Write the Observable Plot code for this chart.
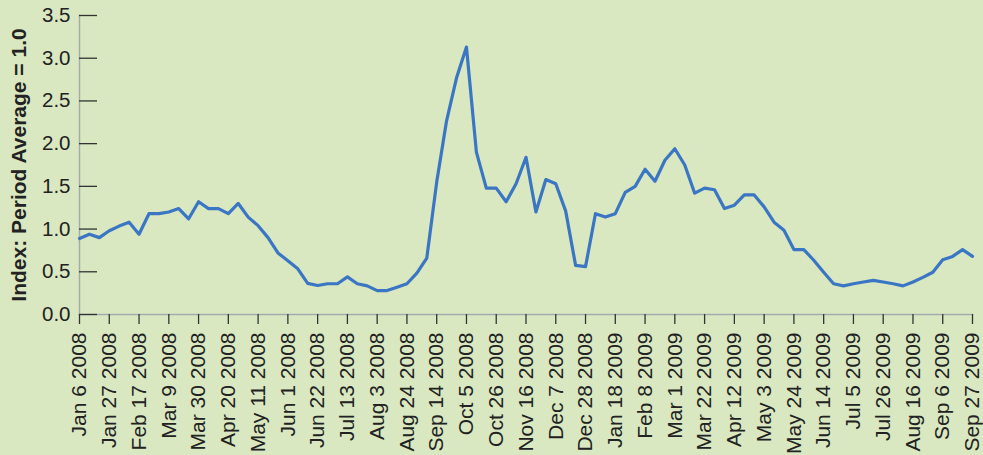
<!DOCTYPE html>
<html>
<head>
<meta charset="utf-8">
<script src="https://cdn.jsdelivr.net/npm/d3@7"></script>
<script src="https://cdn.jsdelivr.net/npm/@observablehq/plot@0.6"></script>
<style>
  html, body { margin: 0; padding: 0; background: #d9e8c0; }
  #chart { width: 983px; height: 455px; }
</style>
</head>
<body>
<div id="chart"></div>
<script>
// Weekly index values, Jan 6 2008 .. Sep 27 2009
const startLabel = "Jan 6 2008";
const values = [
  0.89, 0.94, 0.90, 0.98, 1.035, 1.08, 0.94, 1.18, 1.18, 1.20,
  1.24, 1.12, 1.32, 1.24, 1.24, 1.18, 1.30, 1.14, 1.04, 0.90,
  0.72, 0.63, 0.535, 0.365, 0.34, 0.36, 0.36, 0.44, 0.36, 0.335,
  0.28, 0.28, 0.32, 0.36, 0.485, 0.66, 1.55, 2.27, 2.77, 3.13,
  1.90, 1.48, 1.48, 1.32, 1.53, 1.84, 1.20, 1.58, 1.53, 1.21,
  0.575, 0.56, 1.18, 1.14, 1.18, 1.43, 1.50, 1.70, 1.56, 1.805,
  1.94, 1.75, 1.42, 1.48, 1.46, 1.24, 1.28, 1.40, 1.40, 1.26,
  1.08, 0.985, 0.76, 0.76, 0.635, 0.495, 0.36, 0.335, 0.36, 0.38,
  0.40, 0.38, 0.36, 0.335, 0.38, 0.435, 0.495, 0.64, 0.68, 0.76, 0.68
];
const tickLabels = [
  "Jan 6 2008", "Jan 27 2008", "Feb 17 2008", "Mar 9 2008", "Mar 30 2008",
  "Apr 20 2008", "May 11 2008", "Jun 1 2008", "Jun 22 2008", "Jul 13 2008",
  "Aug 3 2008", "Aug 24 2008", "Sep 14 2008", "Oct 5 2008", "Oct 26 2008",
  "Nov 16 2008", "Dec 7 2008", "Dec 28 2008", "Jan 18 2009", "Feb 8 2009",
  "Mar 1 2009", "Mar 22 2009", "Apr 12 2009", "May 3 2009", "May 24 2009",
  "Jun 14 2009", "Jul 5 2009", "Jul 26 2009", "Aug 16 2009", "Sep 6 2009",
  "Sep 27 2009"
];
const yTicks = [0, 0.5, 1.0, 1.5, 2.0, 2.5, 3.0, 3.5];
const yTitle = "Index: Period Average = 1.0";

const parse = d3.utcParse("%b %d %Y");
const fmt = d3.utcFormat("%b %-d %Y");
const start = parse(startLabel);
const data = values.map((v, i) => ({ date: d3.utcDay.offset(start, 7 * i), value: v }));
const tickDates = tickLabels.map(parse);

const chart = Plot.plot({
  width: 983,
  height: 455,
  marginLeft: 79,
  marginRight: 11,
  marginTop: 15,
  marginBottom: 141,
  style: {
    background: "#d9e8c0",
    fontFamily: "'Liberation Sans', Arial, Helvetica, sans-serif",
    fontSize: "20px",
    color: "#222"
  },
  x: { type: "utc", domain: [data[0].date, data[data.length - 1].date] },
  y: { domain: [0, 3.5] },
  marks: [
    Plot.frame({ anchor: "left", stroke: "#a6aaae", strokeWidth: 1.5 }),
    Plot.frame({ anchor: "bottom", stroke: "#a6aaae", strokeWidth: 1.5 }),
    Plot.axisY({
      ticks: yTicks,
      tickFormat: (d) => d.toFixed(1),
      tickSize: -18,
      tickPadding: 27,
      stroke: "#333",
      strokeOpacity: 1,
      strokeWidth: 1.3,
      fill: "#222",
      fontSize: 20.5,
      label: null
    }),
    Plot.axisX({
      ticks: tickDates,
      tickFormat: fmt,
      tickRotate: -90,
      tickSize: 10,
      tickPadding: 8,
      stroke: "#333",
      strokeOpacity: 1,
      strokeWidth: 1.3,
      fill: "#222",
      fontSize: 21,
      label: null
    }),
    Plot.line(data, {
      x: "date",
      y: "value",
      stroke: "#3a76c4",
      strokeWidth: 3.2,
      strokeLinejoin: "round"
    }),
    Plot.text([yTitle], {
      frameAnchor: "left",
      rotate: -90,
      dx: -60,
      fontWeight: "bold",
      fontSize: 21,
      textAnchor: "middle",
      lineAnchor: "middle",
      fill: "#222"
    })
  ]
});
document.getElementById("chart").appendChild(chart);
</script>
</body>
</html>
